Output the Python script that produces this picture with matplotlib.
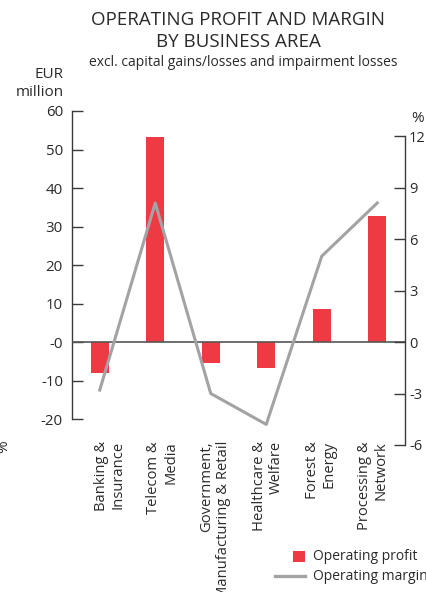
import matplotlib
matplotlib.use("Agg")
import matplotlib.pyplot as plt
import matplotlib.transforms as mtransforms
from matplotlib.patches import Rectangle
from matplotlib.lines import Line2D

# Business areas
categories = [
    "Banking &\nInsurance",
    "Telecom &\nMedia",
    "Government,\nManufacturing & Retail",
    "Healthcare &\nWelfare",
    "Forest &\nEnergy",
    "Processing &\nNetwork",
]
# Operating profit, EUR million
operating_profit = [-8.1, 53.3, -5.5, -6.8, 8.7, 32.8]
# Operating margin, %
operating_margin = [-2.8, 8.1, -3.0, -4.8, 5.0, 8.1]

left_ticks = [60, 50, 40, 30, 20, 10, 0, -10, -20]
left_ticklabels = ["60", "50", "40", "30", "20", "10", "-0", "-10", "-20"]
right_ticks = [12, 9, 6, 3, 0, -3, -6]
right_ticklabels = ["12", "9", "6", "3", "0", "-3", "-6"]
legend_labels = ["Operating profit", "Operating margin"]

BAR_COLOR = "#ee3a43"
LINE_COLOR = "#a3a3a5"
AXIS_COLOR = "#3a3a3a"
TEXT_COLOR = "#2a2a2a"
FONT = ["Open Sans", "DejaVu Sans"]

plt.rcParams["font.family"] = FONT
plt.rcParams["text.color"] = TEXT_COLOR

W, H = 427, 592
fig = plt.figure(figsize=(W / 100, H / 100), dpi=100)


def fx(px):
    return px / W


def fy(py):
    return 1 - py / H


ax_left, ax_right_px, ax_top, ax_bottom = 72, 405, 111, 445
ax = fig.add_axes([fx(ax_left), fy(ax_bottom),
                   (ax_right_px - ax_left) / W, (ax_bottom - ax_top) / H])
ax2 = ax.twinx()

x = list(range(len(categories)))

# Left axis: operating profit bars
ax.bar(x, operating_profit, width=0.32, color=BAR_COLOR, zorder=2)
ax.axhline(0, color="#555555", lw=1.2, zorder=3)
ylo, yhi = -26.75, 60
ax.set_ylim(ylo, yhi)
ax.set_xlim(-0.5, 5.5)

# Right axis: operating margin line, zero aligned with the left axis
rlo = -6
zero_frac = -ylo / (yhi - ylo)
rhi = rlo + (-rlo) / zero_frac
ax2.set_ylim(rlo, rhi)
ax2.plot(x, operating_margin, color=LINE_COLOR, lw=2.2, zorder=4)

for a in (ax, ax2):
    for s in ("top", "bottom"):
        a.spines[s].set_visible(False)
ax.spines["right"].set_visible(False)
ax2.spines["left"].set_visible(False)
ax.spines["left"].set_bounds(-20, 60)
ax2.spines["right"].set_bounds(-6, 12)
ax.spines["left"].set_color(AXIS_COLOR)
ax2.spines["right"].set_color(AXIS_COLOR)
ax.spines["left"].set_linewidth(1.0)
ax2.spines["right"].set_linewidth(1.0)

ax.set_yticks(left_ticks)
ax.set_yticklabels(left_ticklabels)
ax.tick_params(axis="y", direction="in", length=8, width=1.0, color=AXIS_COLOR,
               pad=6.5, labelsize=10.8, labelcolor=TEXT_COLOR)
ax2.set_yticks(right_ticks)
ax2.set_yticklabels(right_ticklabels)
ax2.tick_params(axis="y", direction="in", length=8, width=1.0, color=AXIS_COLOR,
                pad=3, labelsize=10.5, labelcolor=TEXT_COLOR)

# Category labels, rotated, hanging from just above the axes bottom
ax.set_xticks([])
trans = mtransforms.blended_transform_factory(ax.transData, ax.transAxes)
mid = (len(categories) - 1) / 2
for i, lab in enumerate(categories):
    xl = mid + (i - mid) * 0.95 + 0.05
    ax.text(xl, 0.012, lab, transform=trans, rotation=90, ha="center", va="top",
            multialignment="right", fontsize=10.6, linespacing=1.15,
            clip_on=False)

# Titles
fig.text(fx(238), fy(20), "OPERATING PROFIT AND MARGIN",
         ha="center", va="center", fontsize=13.5)
fig.text(fx(238), fy(42), "BY BUSINESS AREA",
         ha="center", va="center", fontsize=13.5)
fig.text(fx(243), fy(62), "excl. capital gains/losses and impairment losses",
         ha="center", va="center", fontsize=10)
fig.text(fx(64), fy(75), "EUR", ha="right", va="center", fontsize=11)
fig.text(fx(64), fy(93), "million", ha="right", va="center", fontsize=11)
fig.text(fx(418), fy(118), "%", ha="center", va="center", fontsize=11)
fig.text(fx(-4), fy(447), "%", ha="left", va="center", fontsize=11,
         rotation=90)

# Legend drawn in figure pixels
fig.patches.append(Rectangle((fx(293), fy(562)), fx(305) - fx(293),
                             fy(551) - fy(562), transform=fig.transFigure,
                             facecolor=BAR_COLOR, edgecolor="none"))
fig.lines.append(Line2D([fx(275), fx(305)], [fy(576), fy(576)],
                        transform=fig.transFigure, color=LINE_COLOR, lw=2.4))
fig.text(fx(313), fy(556), legend_labels[0], ha="left", va="center",
         fontsize=10)
fig.text(fx(313), fy(576), legend_labels[1], ha="left", va="center",
         fontsize=10)

fig.savefig("out.png", dpi=100)
